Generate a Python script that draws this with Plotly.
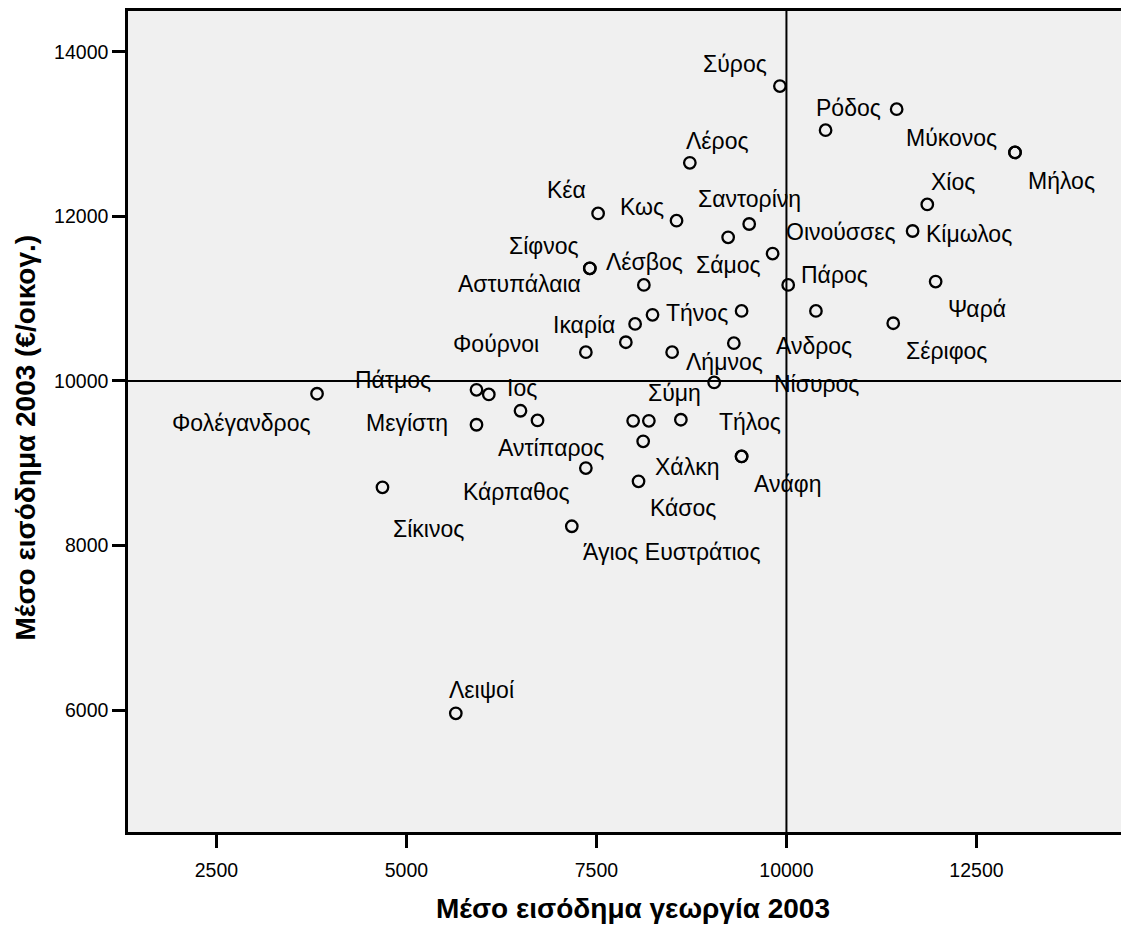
import plotly.graph_objects as go

# ---- data ----
islands = ["Σύρος", "Ρόδος", "", "Μύκονος", "Μήλος", "Λέρος", "Χίος", "Κέα", "Κως",
           "Σαντορίνη", "Κίμωλος", "Σάμος", "Οινούσσες", "Σίφνος", "Αστυπάλαια", "Ψαρά",
           "Λέσβος", "Πάρος", "Ανδρος", "Τήνος", "", "Σέριφος", "", "Ικαρία", "Νίσυρος",
           "Φούρνοι", "Λήμνος", "", "Πάτμος", "Φολέγανδρος", "Ιος", "", "Αντίπαρος", "", "",
           "Σύμη", "Μεγίστη", "Χάλκη", "Τήλος", "Ανάφη", "Κάρπαθος", "Κάσος", "Σίκινος",
           "Άγιος Ευστράτιος", "Λειψοί"]
income_agri = [9914, 11450, 10515, 13007, 13007, 8729, 11853, 7522, 8554,
               9510, 11660, 9233, 9818, 7413, 7413, 11963,
               8124, 10023, 10388, 9410, 8238, 11405, 8009, 7887, 9308,
               7361, 8496, 9049, 5922, 3824, 6084, 6501, 6725, 7983, 8190,
               8611, 5922, 8115, 9410, 9410, 7361, 8054, 4685,
               7176, 5650]
income_total = [13584, 13304, 13049, 12778, 12778, 12652, 12146, 12037, 11948,
                11908, 11823, 11746, 11548, 11369, 11369, 11208,
                11168, 11168, 10852, 10852, 10804, 10702, 10694, 10471, 10459,
                10350, 10350, 9982, 9893, 9845, 9836, 9638, 9520, 9516, 9516,
                9529, 9468, 9266, 9083, 9083, 8941, 8780, 8707,
                8234, 5960]

x_ticks = [2500, 5000, 7500, 10000, 12500]
y_ticks = [6000, 8000, 10000, 12000, 14000]
ref_x = 10000
ref_y = 10000
x_range = [1337, 14507]
y_range = [4518, 14497]

x_title = "Μέσο εισόδημα γεωργία 2003"
y_title = "Μέσο εισόδημα 2003 (€/οικογ.)"

# ---- label placement (pixel offsets from each point: anchor, dx, dy down) ----
label_layout = {
    "Σύρος": ("right", -12, -22), "Ρόδος": ("right", -15, -1),
    "Μύκονος": ("right", -17, -14), "Μήλος": ("left", 12, 29),
    "Λέρος": ("left", -5, -22), "Χίος": ("left", 3, -22),
    "Κέα": ("right", -11, -23), "Κως": ("right", -12, -14),
    "Σαντορίνη": ("center", 0, -25), "Οινούσσες": ("left", 12, -22),
    "Κίμωλος": ("left", 12, 3), "Σάμος": ("center", 0, 28),
    "Σίφνος": ("right", -10, -22), "Αστυπάλαια": ("right", -8, 16),
    "Λέσβος": ("center", 1, -23), "Πάρος": ("left", 12, -10),
    "Ψαρά": ("left", 11, 27), "Ανδρος": ("center", -2, 35),
    "Σέριφος": ("left", 12, 28), "Τήνος": ("right", -13, 2),
    "Ικαρία": ("right", -10, -17), "Φούρνοι": ("right", -46, -8),
    "Λήμνος": ("left", 13, 10), "Νίσυρος": ("left", 39, 41),
    "Πάτμος": ("right", -44, -10), "Ιος": ("left", 17, -6),
    "Φολέγανδρος": ("right", -5, 29), "Μεγίστη": ("right", -27, -2),
    "Σύμη": ("center", -6, -27), "Τήλος": ("center", 8, -34),
    "Ανάφη": ("left", 11, 28), "Αντίπαρος": ("center", 13, 28),
    "Κάρπαθος": ("right", -15, 24), "Χάλκη": ("left", 11, 26),
    "Κάσος": ("left", 10, 27), "Σίκινος": ("left", 10, 42),
    "Άγιος Ευστράτιος": ("left", 10, 26), "Λειψοί": ("left", -8, -23),
}

FONT = "Arial, Liberation Sans, sans-serif"

fig = go.Figure()
fig.add_trace(go.Scatter(
    x=income_agri, y=income_total, mode="markers",
    marker=dict(symbol="circle", size=11.5, color="rgba(0,0,0,0)",
                line=dict(color="black", width=2.3)),
    text=islands, hoverinfo="text+x+y", showlegend=False,
))

fig.add_vline(x=ref_x, line=dict(color="black", width=2), layer="below")
fig.add_hline(y=ref_y, line=dict(color="black", width=2), layer="below")

annotations = []
for name, xv, yv in zip(islands, income_agri, income_total):
    if not name:
        continue
    anchor, dx, dy = label_layout[name]
    annotations.append(dict(
        x=xv, y=yv, xref="x", yref="y", text=name, showarrow=False,
        xanchor=anchor, yanchor="middle", xshift=dx, yshift=-dy,
        borderpad=0, font=dict(family=FONT, size=23, color="black"),
    ))

# axis titles
annotations.append(dict(
    x=0.5, y=0, xref="paper", yref="paper", text=x_title, showarrow=False,
    xanchor="center", yanchor="middle", xshift=4, yshift=-76, borderpad=0,
    font=dict(family=FONT, size=28, color="black", weight="bold"),
))
annotations.append(dict(
    x=0, y=0.5, xref="paper", yref="paper", text=y_title, showarrow=False,
    textangle=-90, xanchor="center", yanchor="middle", xshift=-103, yshift=-16,
    borderpad=0, font=dict(family=FONT, size=28, color="black", weight="bold"),
))

fig.update_layout(
    width=1121, height=924,
    margin=dict(l=120, r=0, t=1, b=100),
    paper_bgcolor="white", plot_bgcolor="#f0f0f0",
    font=dict(family=FONT, color="black"),
    annotations=annotations,
    xaxis=dict(
        range=x_range, tickvals=x_ticks, ticktext=[str(v) for v in x_ticks],
        showgrid=False, zeroline=False,
        showline=True, linecolor="black", linewidth=2.5, mirror=True,
        ticks="outside", ticklen=13, tickwidth=2.5, tickcolor="black",
        tickfont=dict(family=FONT, size=19.5, color="black"),
        ticklabelstandoff=6,
    ),
    yaxis=dict(
        range=y_range, tickvals=y_ticks, ticktext=[str(v) for v in y_ticks],
        showgrid=False, zeroline=False,
        showline=True, linecolor="black", linewidth=2.5,
        ticks="outside", ticklen=13, tickwidth=2.5, tickcolor="black",
        tickfont=dict(family=FONT, size=19.5, color="black"),
        ticklabelstandoff=0,
    ),
)

fig.write_html("out.html")
